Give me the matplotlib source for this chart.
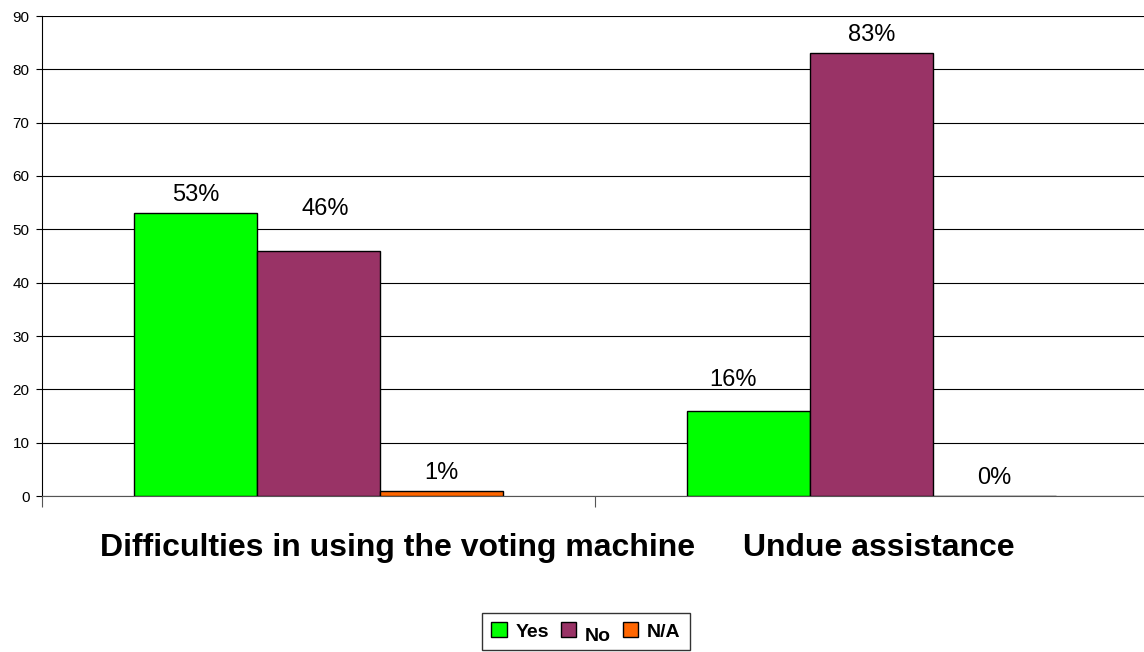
import matplotlib
matplotlib.use("Agg")
import matplotlib.pyplot as plt
from matplotlib.patches import Patch
from matplotlib.transforms import offset_copy
import numpy as np

plt.rcParams['font.family'] = ['Liberation Sans', 'DejaVu Sans']

categories = ["Difficulties in using the voting machine", "Undue assistance"]
series = ["Yes", "No", "N/A"]
yes_vals = [53, 16]
no_vals = [46, 83]
na_vals = [1, 0]
colors = ["#00FF00", "#993366", "#FF6600"]
yticks = [0, 10, 20, 30, 40, 50, 60, 70, 80, 90]

# label nudges (pixels) per series per category, as placed in the original
label_dx = [[0, -16], [7, 0], [0, 0]]
label_dy = [[0, 13], [24, 0], [0, 0]]

fig = plt.figure(figsize=(11.44, 6.52), dpi=100)
ax = fig.add_axes([42/1144, 156/652, 1106/1144, (496-16)/652])

x = np.arange(len(categories))
w = 0.222
for i, (vals, col) in enumerate(zip([yes_vals, no_vals, na_vals], colors)):
    pos = x + (i - 1) * w
    ax.bar(pos, vals, width=w, color=col, edgecolor="black", linewidth=1, zorder=3)
    for j, (p, v) in enumerate(zip(pos, vals)):
        ax.annotate(f"{v}%", xy=(p, v), xytext=(label_dx[i][j]*0.72, (18 + label_dy[i][j])*0.72),
                    textcoords="offset points", ha="center", va="center", fontsize=17, zorder=4)

ax.set_xlim(-0.5, 1.5)
ax.set_ylim(0, 90)
ax.set_yticks(yticks)
ax.tick_params(axis='y', labelsize=11, length=4, width=0.8, pad=5)
ax.yaxis.grid(True, color="black", linewidth=0.8, zorder=0)
ax.set_xticks([-0.5, 0.5, 1.5])
ax.set_xticklabels([])
ax.tick_params(axis='x', length=8, width=0.8, color="#555555")
for s in ["top", "right"]:
    ax.spines[s].set_visible(False)
ax.spines["left"].set_color("black")
ax.spines["bottom"].set_color("#555555")

label_offsets = [0.143, 0.014]
for xi, cat, off in zip(x, categories, label_offsets):
    ax.text(xi + off, -9.7, cat, ha="center", va="center", fontsize=23,
            fontweight="bold", transform=ax.transData)

handles = [Patch(facecolor=c, edgecolor="black", label=s) for c, s in zip(colors, series)]
leg = fig.legend(handles=handles, loc="center", bbox_to_anchor=(586/1144, 1 - 631.5/652),
                 ncol=3, frameon=True, fancybox=False, edgecolor="black",
                 prop={'weight': 'bold', 'size': 14}, handlelength=0.8, handleheight=0.8,
                 handletextpad=0.45, columnspacing=0.6, borderpad=0.5)
leg.get_frame().set_linewidth(1.0)
for t in leg.get_texts():
    if t.get_text() == "No":
        t.set_transform(offset_copy(t.get_transform(), fig=fig, x=0, y=-4, units="dots"))

fig.savefig("out.png", dpi=100)
